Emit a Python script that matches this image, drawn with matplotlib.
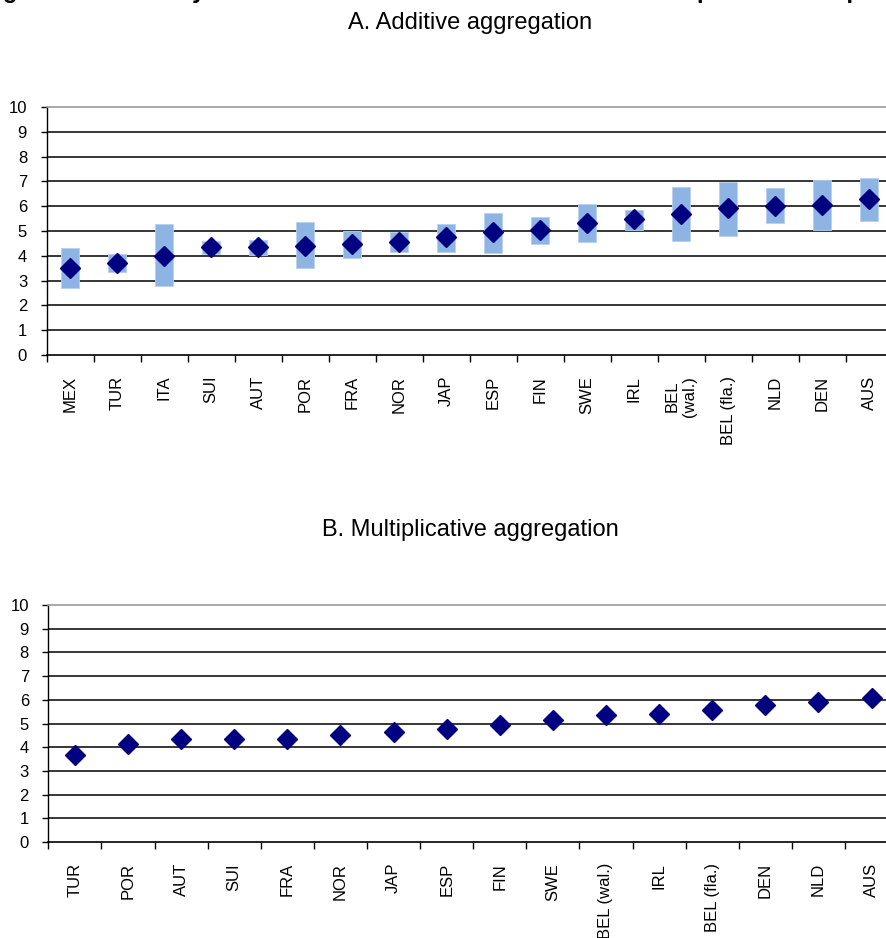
import matplotlib
matplotlib.use('Agg')
import matplotlib.pyplot as plt
import numpy as np

plt.rcParams['font.family'] = ['Liberation Sans', 'DejaVu Sans']

# A. additive aggregation: point estimate and range (low/high)
countries_a = ['MEX', 'TUR', 'ITA', 'SUI', 'AUT', 'POR', 'FRA', 'NOR', 'JAP',
               'ESP', 'FIN', 'SWE', 'IRL', 'BEL\n(wal.)', 'BEL (fla.)', 'NLD',
               'DEN', 'AUS']
score_a = [3.50, 3.70, 4.00, 4.34, 4.34, 4.41, 4.48, 4.56, 4.76,
           4.95, 5.04, 5.31, 5.47, 5.69, 5.93, 6.02, 6.04, 6.29]
low_a = [2.71, 3.36, 2.78, 4.06, 4.02, 3.52, 3.92, 4.17, 4.17,
         4.10, 4.46, 4.54, 5.04, 4.60, 4.79, 5.34, 5.04, 5.40]
high_a = [4.30, 4.07, 5.28, 4.60, 4.64, 5.36, 4.99, 4.97, 5.29,
          5.74, 5.55, 6.09, 5.83, 6.76, 6.99, 6.72, 7.04, 7.15]

# B. multiplicative aggregation
countries_b = ['TUR', 'POR', 'AUT', 'SUI', 'FRA', 'NOR', 'JAP', 'ESP', 'FIN',
               'SWE', 'BEL (wal.)', 'IRL', 'BEL (fla.)', 'DEN', 'NLD', 'AUS']
score_b = [3.67, 4.13, 4.33, 4.33, 4.36, 4.51, 4.65, 4.75, 4.94,
           5.15, 5.34, 5.40, 5.57, 5.79, 5.92, 6.09]

NAVY = '#000080'
RANGE = '#8db4e2'


def style_axis(ax, labels):
    n = len(labels)
    ax.set_xlim(0, n)
    ax.set_ylim(0, 10)
    ax.set_yticks(range(0, 11))
    for v in range(1, 10):
        ax.axhline(v, color='black', lw=1.1, zorder=1)
    ax.spines['top'].set_color('#9a9a9a')
    ax.spines['top'].set_linewidth(1.2)
    ax.spines['right'].set_visible(False)
    ax.spines['left'].set_linewidth(1.0)
    ax.spines['bottom'].set_linewidth(1.2)
    # boundaries as major ticks, names on minor ticks
    ax.set_xticks(np.arange(0, n + 1))
    ax.set_xticklabels([])
    ax.set_xticks(np.arange(n) + 0.5, minor=True)
    ax.set_xticklabels(labels, minor=True, rotation=90, va='top', ha='center',
                       fontsize=12)
    ax.tick_params(axis='x', which='major', length=5, width=1, direction='out')
    ax.tick_params(axis='x', which='minor', length=0, pad=15)
    ax.tick_params(axis='y', length=4, width=1, pad=10, labelsize=12)


fig = plt.figure(figsize=(8.87, 9.38), dpi=100)

# cropped heading of the original page
fig.text(-0.02, 1.0 + 2 / 938, 'Figure 1. Sensitivity of results to the method: additive and multiplicative composites',
         fontsize=17, fontweight='bold', ha='left', va='baseline')

fig.text(0.53, 0.976, 'A. Additive aggregation', fontsize=17, ha='center', va='center')
fig.text(0.53, 0.435, 'B. Multiplicative aggregation', fontsize=17, ha='center', va='center')

ax1 = fig.add_axes([0.0525, 0.6215, 0.9538, 0.2644])
xa = np.arange(len(countries_a)) + 0.5
ax1.bar(xa, np.array(high_a) - np.array(low_a), bottom=low_a, width=0.4,
        color=RANGE, edgecolor='#b8d0ef', linewidth=0.6, zorder=2)
ax1.plot(xa, score_a, 'D', color=NAVY, ms=10.5, zorder=3, clip_on=False)
style_axis(ax1, countries_a)

ax2 = fig.add_axes([0.0545, 0.1023, 0.958, 0.2527])
xb = np.arange(len(countries_b)) + 0.5
ax2.plot(xb, score_b, 'D', color=NAVY, ms=10.5, zorder=3)
style_axis(ax2, countries_b)

fig.savefig('out.png', dpi=100)
